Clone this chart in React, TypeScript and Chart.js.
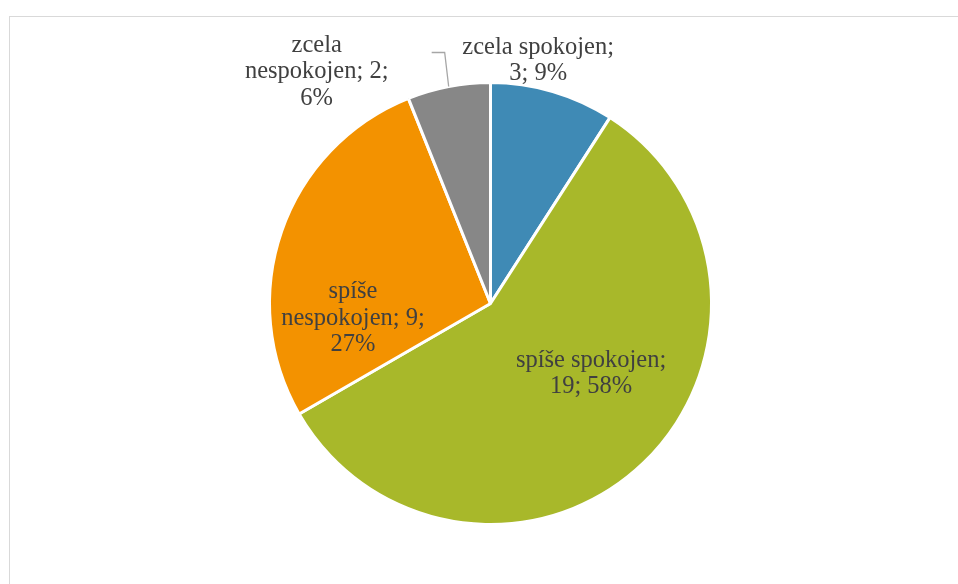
import React, { useEffect, useRef } from "react";
import { Chart, registerables } from "chart.js";

Chart.register(...registerables);

const categories = ["zcela spokojen", "spíše spokojen", "spíše nespokojen", "zcela nespokojen"];
const counts = [3, 19, 9, 2];
const percents = ["9%", "58%", "27%", "6%"];
const colors = ["#3F8AB5", "#A8B82A", "#F39200", "#878787"];
// label text lines for each slice
const labelLines = [
  ["zcela spokojen;", "3; 9%"],
  ["spíše spokojen;", "19; 58%"],
  ["spíše", "nespokojen; 9;", "27%"],
  ["zcela", "nespokojen; 2;", "6%"],
];
// label placement: angle (deg clockwise from top) and distance as fraction of radius
const labelAngles = [11.1, 124.9, 263.8, 323.1];
const labelDist = [1.12, 0.555, 0.626, 1.31];

const FONT = "24.5px 'Liberation Serif', serif";
const LINE_H = 26.5;

const labelPlugin = {
  id: "sliceLabels",
  afterDraw(chart: any) {
    const ctx = chart.ctx;
    const meta = chart.getDatasetMeta(0);
    const arc0 = meta.data[0] as any;
    const cx = arc0.x;
    const cy = arc0.y;
    const R = arc0.outerRadius;
    ctx.save();
    // leader line for the small gray slice
    const gray = meta.data[3] as any;
    const mid = (gray.startAngle + gray.endAngle) / 2;
    const sx = cx + Math.cos(mid) * R;
    const sy = cy + Math.sin(mid) * R;
    ctx.strokeStyle = "#A6A6A6";
    ctx.lineWidth = 1.3;
    ctx.beginPath();
    ctx.moveTo(sx, sy);
    ctx.lineTo(sx - 4, sy - 34);
    ctx.lineTo(sx - 17, sy - 34);
    ctx.stroke();

    ctx.font = FONT;
    ctx.fillStyle = "#404040";
    ctx.textAlign = "center";
    ctx.textBaseline = "middle";
    labelLines.forEach((lines, i) => {
      const a = (labelAngles[i] - 90) * Math.PI / 180;
      const x = cx + Math.cos(a) * R * labelDist[i];
      const y = cy + Math.sin(a) * R * labelDist[i];
      const top = y - ((lines.length - 1) * LINE_H) / 2;
      lines.forEach((ln, j) => ctx.fillText(ln, x, top + j * LINE_H));
    });
    ctx.restore();
  },
};

export default function App() {
  const ref = useRef<HTMLCanvasElement | null>(null);
  useEffect(() => {
    if (!ref.current) return;
    const chart = new Chart(ref.current, {
      type: "pie",
      data: {
        labels: categories,
        datasets: [
          {
            data: counts,
            backgroundColor: colors,
            borderColor: "#FFFFFF",
            borderWidth: 3,
          },
        ],
      },
      options: {
        animation: false,
        responsive: false,
        layout: { padding: { top: 81, bottom: 58, left: 200, right: 177 } },
        plugins: {
          legend: { display: false },
          tooltip: { enabled: false },
        },
      },
      plugins: [labelPlugin],
    });
    return () => chart.destroy();
  }, []);
  return (
    <div style={{ position: "fixed", left: 0, top: 0, width: 958, height: 584, overflow: "hidden", background: "#fff" }}>
      <div
        style={{
          position: "absolute",
          left: 9,
          top: 16,
          width: 1000,
          height: 1000,
          border: "1px solid #D9D9D9",
          boxSizing: "border-box",
        }}
      />
      <canvas ref={ref} width={958} height={584} style={{ position: "absolute", left: 0, top: 0 }} />
    </div>
  );
}
